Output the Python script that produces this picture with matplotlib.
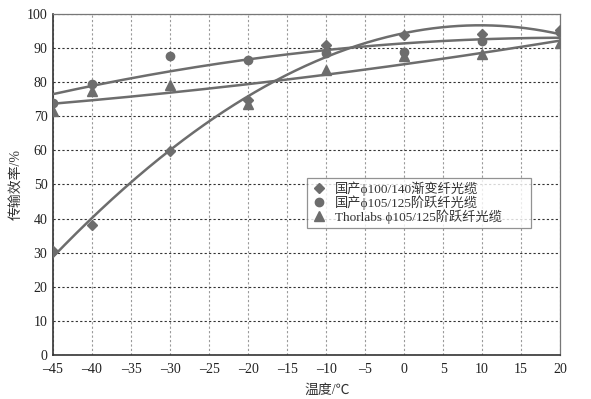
import numpy as np
import matplotlib
matplotlib.use("Agg")
import matplotlib.pyplot as plt

plt.rcParams['font.family'] = ['Liberation Serif', 'Noto Sans CJK SC']
plt.rcParams['axes.unicode_minus'] = False

# temperature (°C)
temps = [-45, -40, -30, -20, -10, 0, 10, 20]

# transmission efficiency (%)
graded_100_140 = [30.5, 38.0, 59.8, 74.8, 91.0, 93.8, 94.0, 95.3]
step_105_125 = [73.8, 79.5, 87.5, 86.6, 88.6, 88.8, 92.0, 94.6]
thorlabs_105_125 = [71.6, 77.5, 79.2, 73.6, 83.4, 87.5, 88.3, 91.6]

labels = ['国产ϕ100/140渐变纤光缆', '国产ϕ105/125阶跃纤光缆',
          'Thorlabs ϕ105/125阶跃纤光缆']

grey = '#6d6d6d'

fig = plt.figure(figsize=(5.91, 3.99), dpi=100)
ax = fig.add_axes([0.0897, 0.1103, 0.858, 0.855])

x = np.array(temps)
xs = np.linspace(-45, 20, 300)

# trend lines (polynomial fits to the measured points)
for ys, deg in [(graded_100_140, 3), (step_105_125, 2), (thorlabs_105_125, 2)]:
    p = np.polyfit(x, ys, deg)
    ax.plot(xs, np.polyval(p, xs), color=grey, lw=1.8, zorder=3)

ax.plot(x, graded_100_140, 'D', color=grey, ms=5, label=labels[0], zorder=4)
ax.plot(x, step_105_125, 'o', color=grey, ms=6, label=labels[1], zorder=4)
ax.plot(x, thorlabs_105_125, '^', color=grey, ms=7, label=labels[2], zorder=4)

ax.set_xlim(-45, 20)
ax.set_ylim(0, 100)
ax.set_xticks(np.arange(-45, 21, 5))
ax.set_yticks(np.arange(0, 101, 10))
ax.set_xticklabels([str(t).replace('-', '–') for t in range(-45, 21, 5)])

ax.yaxis.grid(True, ls=(0, (2, 2)), color='#333333', lw=0.8)
ax.xaxis.grid(True, ls=(0, (2, 2)), color='#9a9a9a', lw=0.8)
ax.set_axisbelow(True)

for s in ['left', 'bottom']:
    ax.spines[s].set_color('#333333')
    ax.spines[s].set_linewidth(1.2)
for s in ['top', 'right']:
    ax.spines[s].set_color('#777777')
    ax.spines[s].set_linewidth(0.9)

ax.tick_params(length=0, labelsize=10, colors='#222222')
ax.tick_params(axis='y', pad=4)
ax.tick_params(axis='x', pad=6)

ax.set_xlabel('温度/℃', fontsize=10, color='#333333')
ax.xaxis.set_label_coords(0.54, -0.085)
ax.set_ylabel('传输效率/%', fontsize=10, color='#333333')
ax.yaxis.set_label_coords(-0.058, 0.5)

# legend box spans roughly x 307-531 px, top at ~178 px
leg = ax.legend(loc='upper left', mode='expand',
                bbox_to_anchor=(0.501, 0.42, 0.441, 0.1), borderaxespad=0,
                fontsize=9.5, frameon=True, fancybox=False,
                edgecolor='#777777', handletextpad=0.6, labelspacing=-0.05,
                borderpad=0.3, handlelength=1.2)
leg.get_frame().set_linewidth(0.9)
for t in leg.get_texts():
    t.set_color('#333333')

fig.savefig('out.png', dpi=100)
